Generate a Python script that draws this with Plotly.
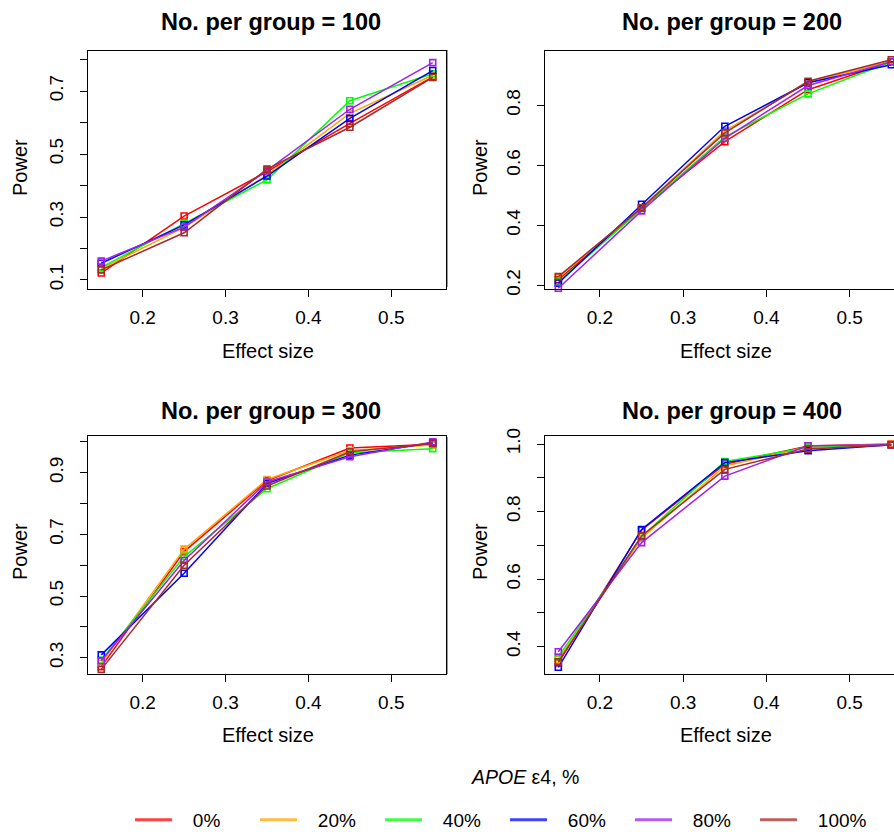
import plotly.graph_objects as go

# ---------------- data ----------------
effect_size = [0.15, 0.25, 0.35, 0.45, 0.55]
apoe_groups = ["0%", "20%", "40%", "60%", "80%", "100%"]

power_n100 = {
    "0%":   [0.122, 0.303, 0.444, 0.597, 0.745],
    "20%":  [0.136, 0.267, 0.433, 0.629, 0.750],
    "40%":  [0.140, 0.280, 0.418, 0.669, 0.755],
    "60%":  [0.153, 0.275, 0.430, 0.613, 0.765],
    "80%":  [0.160, 0.268, 0.447, 0.642, 0.790],
    "100%": [0.132, 0.250, 0.452, 0.585, 0.743],
}
power_n200 = {
    "0%":   [0.218, 0.457, 0.679, 0.852, 0.945],
    "20%":  [0.226, 0.458, 0.715, 0.876, 0.947],
    "40%":  [0.212, 0.455, 0.695, 0.838, 0.945],
    "60%":  [0.207, 0.470, 0.730, 0.875, 0.935],
    "80%":  [0.190, 0.448, 0.690, 0.866, 0.945],
    "100%": [0.229, 0.458, 0.708, 0.880, 0.952],
}
power_n300 = {
    "0%":   [0.271, 0.644, 0.874, 0.980, 0.992],
    "20%":  [0.282, 0.652, 0.878, 0.972, 0.990],
    "40%":  [0.292, 0.628, 0.848, 0.965, 0.978],
    "60%":  [0.309, 0.574, 0.865, 0.957, 0.997],
    "80%":  [0.290, 0.615, 0.870, 0.952, 1.000],
    "100%": [0.262, 0.600, 0.857, 0.968, 0.995],
}
power_n400 = {
    "0%":   [0.352, 0.745, 0.940, 0.994, 1.000],
    "20%":  [0.362, 0.721, 0.935, 0.992, 0.999],
    "40%":  [0.370, 0.726, 0.948, 0.990, 0.998],
    "60%":  [0.339, 0.747, 0.945, 0.980, 0.998],
    "80%":  [0.385, 0.708, 0.905, 0.995, 0.998],
    "100%": [0.355, 0.728, 0.925, 0.985, 0.997],
}

panel_titles = ["No. per group = 100", "No. per group = 200",
                "No. per group = 300", "No. per group = 400"]
panel_data = [power_n100, power_n200, power_n300, power_n400]

x_tickvals = [0.2, 0.3, 0.4, 0.5]
x_ticktext = ["0.2", "0.3", "0.4", "0.5"]
y_ticks = [
    ([0.1, 0.2, 0.3, 0.4, 0.5, 0.6, 0.7, 0.8], ["0.1", "", "0.3", "", "0.5", "", "0.7", ""]),
    ([0.2, 0.4, 0.6, 0.8], ["0.2", "0.4", "0.6", "0.8"]),
    ([0.3, 0.4, 0.5, 0.6, 0.7, 0.8, 0.9, 1.0], ["0.3", "", "0.5", "", "0.7", "", "0.9", ""]),
    ([0.4, 0.5, 0.6, 0.7, 0.8, 0.9, 1.0], ["0.4", "", "0.6", "", "0.8", "", "1.0"]),
]

colors = ["#FF0000", "#FFA500", "#00FF00", "#0000FF", "#A020F0", "#A52A2A"]
legend_colors = ["rgba(255,0,0,0.75)", "rgba(255,165,0,0.75)", "rgba(0,255,0,0.75)",
                 "rgba(0,0,255,0.75)", "rgba(160,32,240,0.75)", "rgba(165,42,42,0.75)"]

# ---------------- layout geometry ----------------
W, H = 894, 832
FONT = "Liberation Sans, Arial, Helvetica, sans-serif"

def px_x(p):
    return p / W

def px_y(p):
    return 1 - p / H

left_dom = [px_x(88), px_x(446)]
right_dom = [px_x(545), 1.0]
top_dom = [px_y(289), px_y(51)]
bot_dom = [px_y(673.7), px_y(435.7)]

domains = [(left_dom, top_dom), (right_dom, top_dom), (left_dom, bot_dom), (right_dom, bot_dom)]
x_ranges = [[0.134, 0.566], [0.134, 0.5532], [0.134, 0.566], [0.134, 0.5532]]
y_ranges = [[0.0714, 0.827], [0.1877, 0.981], [0.248, 1.02], [0.32, 1.0246]]

fig = go.Figure()

for i, data in enumerate(panel_data):
    xa = "x" if i == 0 else f"x{i+1}"
    ya = "y" if i == 0 else f"y{i+1}"
    for g, c in zip(apoe_groups, colors):
        fig.add_trace(go.Scatter(
            x=effect_size, y=data[g], mode="lines+markers",
            line=dict(color=c, width=1.5),
            marker=dict(symbol="square-open", size=6, color=c, line=dict(width=1.6, color=c)),
            xaxis=xa, yaxis=ya, showlegend=False, cliponaxis=False,
        ))

# legend-only traces
NB = "\u00a0\u00a0\u00a0"
for g, c in zip(apoe_groups, legend_colors):
    fig.add_trace(go.Scatter(
        x=[None], y=[None], mode="lines", name=NB + g,
        line=dict(color=c, width=3), showlegend=True,
    ))

layout = dict(
    template="none",
    width=W, height=H,
    margin=dict(l=0, r=0, t=0, b=0, pad=0, autoexpand=False),
    paper_bgcolor="white", plot_bgcolor="white",
    font=dict(family=FONT, color="black"),
    showlegend=True,
    hovermode=False,
    legend=dict(
        orientation="h", x=px_x(130), y=px_y(820), xanchor="left", yanchor="middle",
        font=dict(size=19, family=FONT, color="black"),
        entrywidth=73, entrywidthmode="pixels", itemwidth=37,
        bgcolor="rgba(0,0,0,0)", borderwidth=0, traceorder="normal",
    ),
)

for i in range(4):
    xkey = "xaxis" if i == 0 else f"xaxis{i+1}"
    ykey = "yaxis" if i == 0 else f"yaxis{i+1}"
    xd, yd = domains[i]
    right_panel = i in (1, 3)
    layout[xkey] = dict(
        domain=xd, range=x_ranges[i], anchor="y" if i == 0 else f"y{i+1}",
        tickmode="array", tickvals=x_tickvals, ticktext=x_ticktext,
        ticks="outside", ticklen=7, tickwidth=1, tickcolor="black",
        showline=True, linecolor="black", linewidth=1, mirror=True,
        showgrid=False, zeroline=False, automargin=False,
        tickfont=dict(size=19, family=FONT, color="black"),
        ticklabelstandoff=4,
    )
    tv, tt = y_ticks[i]
    layout[ykey] = dict(
        domain=yd, range=y_ranges[i], anchor="x" if i == 0 else f"x{i+1}",
        tickmode="array", tickvals=tv, ticktext=tt,
        ticks="outside", ticklen=7, tickwidth=1, tickcolor="black",
        showline=True, linecolor="black", linewidth=1, mirror=(not right_panel),
        showgrid=False, zeroline=False, tickangle=-90, automargin=False,
        tickfont=dict(size=19, family=FONT, color="black"),
        ticklabelstandoff=9,
    )

fig.update_layout(**layout)

# titles and axis labels as annotations
title_pos = [(271, 21.7), (732, 21.7), (271, 410.7), (732, 410.7)]
xlab_pos = [(268, 350.7), (726, 350.7), (268, 735), (726, 735)]
ylab_pos = [(20, 168), (480, 168), (20, 552), (480, 552)]
ann = []
for i in range(4):
    tx, ty = title_pos[i]
    ann.append(dict(text="<b>" + panel_titles[i] + "</b>", x=px_x(tx), y=px_y(ty),
                    xref="paper", yref="paper", showarrow=False,
                    xanchor="center", yanchor="middle",
                    font=dict(size=23.5, family=FONT, color="black")))
    lx, ly = xlab_pos[i]
    ann.append(dict(text="Effect size", x=px_x(lx), y=px_y(ly),
                    xref="paper", yref="paper", showarrow=False,
                    xanchor="center", yanchor="middle",
                    font=dict(size=20, family=FONT, color="black")))
    qx, qy = ylab_pos[i]
    ann.append(dict(text="Power", x=px_x(qx), y=px_y(qy), textangle=-90,
                    xref="paper", yref="paper", showarrow=False,
                    xanchor="center", yanchor="middle",
                    font=dict(size=20, family=FONT, color="black")))
ann.append(dict(text="<i>APOE</i> \u03b54, %", x=px_x(525), y=px_y(777),
                xref="paper", yref="paper", showarrow=False,
                xanchor="center", yanchor="middle",
                font=dict(size=19.5, family=FONT, color="black")))
fig.update_layout(annotations=ann)

# thin gray separator lines at the left of the right-hand panels
fig.add_shape(type="line", xref="paper", yref="paper", x0=px_x(447.5), x1=px_x(447.5),
              y0=px_y(287), y1=px_y(50), line=dict(color="#999999", width=1))
fig.add_shape(type="line", xref="paper", yref="paper", x0=px_x(447.5), x1=px_x(447.5),
              y0=px_y(674), y1=px_y(437), line=dict(color="#999999", width=1))

fig.write_html(
    "out.html",
    config={"displayModeBar": False, "staticPlot": False},
    post_script="document.body.style.margin='0px';"
                "document.body.style.padding='0px';"
                "document.documentElement.style.overflow='hidden';",
)
